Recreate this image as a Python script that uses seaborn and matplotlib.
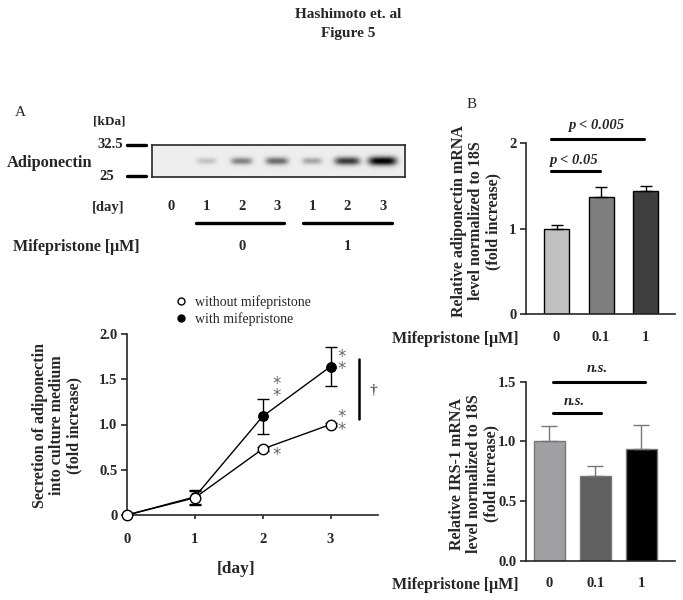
import numpy as np
import pandas as pd
import matplotlib
matplotlib.use("Agg")
import matplotlib.pyplot as plt
import matplotlib.transforms as mtransforms
from matplotlib.lines import Line2D
import seaborn as sns

# --- data ---
# western blot (relative band darkness per lane)
lane_days = ["0", "1", "2", "3", "1", "2", "3"]
band_intensity = [0.0, 0.18, 0.45, 0.55, 0.3, 0.75, 1.0]
band_width = [0.25, 0.28, 0.3, 0.32, 0.28, 0.36, 0.4]

# secretion time course
days = [0, 1, 2, 3]
without_mife = [0.0, 0.19, 0.73, 1.0]
without_err = [0.0, 0.08, 0.02, 0.02]
with_mife = [0.0, 0.20, 1.09, 1.64]
with_err = [0.0, 0.08, 0.19, 0.22]

# bar charts
doses = ["0", "0.1", "1"]
adipo_mrna = [1.0, 1.37, 1.44]
adipo_err = [0.04, 0.12, 0.06]
irs1_mrna = [1.0, 0.71, 0.935]
irs1_err = [0.13, 0.08, 0.20]

sns.set_style("ticks")
plt.rcParams["font.family"] = ["Liberation Serif", "DejaVu Serif"]
plt.rcParams["axes.linewidth"] = 1.2

W, H = 683, 600
fig = plt.figure(figsize=(6.83, 6.0), dpi=100)


def fx(x):
    return x / W


def fy(y):
    return 1 - y / H


def box(x0, y0, x1, y1):
    return [fx(x0), fy(y1), (x1 - x0) / W, (y1 - y0) / H]


bold = dict(fontweight="bold")

# title
fig.text(fx(348), fy(14), "Hashimoto et. al", ha="center", va="center", fontsize=11, **bold)
fig.text(fx(348), fy(33), "Figure 5", ha="center", va="center", fontsize=11, **bold)
fig.text(fx(15), fy(113), "A", ha="left", va="center", fontsize=11)
fig.text(fx(467), fy(104), "B", ha="left", va="center", fontsize=11)

# ---------------- western blot ----------------
axb = fig.add_axes(box(152, 145, 405, 177))
x0, x1 = -0.54, 6.63
xs = np.linspace(x0, x1, 400)
ys = np.linspace(0, 1, 60)
XX, YY = np.meshgrid(xs, ys)
img = np.full(XX.shape, 0.07)
for i, (a, w) in enumerate(zip(band_intensity, band_width)):
    img += a * 0.95 * np.exp(-((XX - i) / w) ** 4) * np.exp(-((YY - 0.5) / (0.09 + 0.05 * a)) ** 2)
axb.imshow(np.clip(img, 0, 1), cmap="gray_r", vmin=0, vmax=1, extent=(x0, x1, 0, 1),
           aspect="auto", interpolation="bilinear")
axb.set_xlim(x0, x1)
axb.set_xticks([])
axb.set_yticks([])
for s in axb.spines.values():
    s.set_linewidth(1.2)

tb = mtransforms.blended_transform_factory(axb.transData, fig.transFigure)
for i, d in enumerate(lane_days):
    axb.text(i, fy(207), d, transform=tb, ha="center", va="center", fontsize=10.5, **bold)
axb.plot([0.7, 3.2], [fy(223)] * 2, transform=tb, color="black", lw=2.4, clip_on=False)
axb.plot([3.74, 6.26], [fy(223)] * 2, transform=tb, color="black", lw=2.4, clip_on=False)
axb.text(2, fy(247), "0", transform=tb, ha="center", va="center", fontsize=10.5, **bold)
axb.text(5, fy(247), "1", transform=tb, ha="center", va="center", fontsize=10.5, **bold)

fig.text(fx(93), fy(121), "[kDa]", ha="left", va="center", fontsize=9.5, **bold)
fig.text(fx(123), fy(145), "32.5", ha="right", va="center", fontsize=10.5, **bold)
fig.text(fx(114), fy(177), "25", ha="right", va="center", fontsize=10.5, **bold)
for yy in (145, 176):
    fig.add_artist(Line2D([fx(127), fx(146)], [fy(yy)] * 2, color="black", lw=2.4))
fig.text(fx(7), fy(163), "Adiponectin", ha="left", va="center", fontsize=11.8, **bold)
fig.text(fx(92), fy(207), "[day]", ha="left", va="center", fontsize=10.5, **bold)
fig.text(fx(13), fy(247), "Mifepristone [μM]", ha="left", va="center", fontsize=11.5, **bold)

# ---------------- time course ----------------
axl = fig.add_axes(box(127, 334, 378, 515))
df_wo = pd.DataFrame({"day": days, "value": without_mife})
df_w = pd.DataFrame({"day": days, "value": with_mife})
axl.errorbar(days, with_mife, yerr=with_err, fmt="none", ecolor="black", elinewidth=1,
             capsize=4, capthick=1, zorder=2)
axl.errorbar(days, without_mife, yerr=without_err, fmt="none", ecolor="black", elinewidth=1,
             capsize=4, capthick=1, zorder=2)
sns.lineplot(data=df_w, x="day", y="value", ax=axl, color="black", lw=1, marker="o",
             markersize=7, markerfacecolor="black", markeredgecolor="black", zorder=3,
             clip_on=False)
sns.lineplot(data=df_wo, x="day", y="value", ax=axl, color="black", lw=1, marker="o",
             markersize=7.5, markerfacecolor="white", markeredgecolor="black",
             markeredgewidth=1, zorder=4, clip_on=False)
axl.set_xlim(0, 3.7)
axl.set_ylim(0, 2.0)
axl.set_xticks(days)
axl.set_xticklabels([str(d) for d in days])
axl.set_yticks([0, 0.5, 1.0, 1.5, 2.0])
axl.set_yticklabels(["0", "0.5", "1.0", "1.5", "2.0"])
axl.tick_params(axis="y", length=4, width=1.2, pad=3, labelsize=10.5)
axl.tick_params(axis="x", length=3, width=1.2, pad=10, labelsize=10.5)
for lab in axl.get_xticklabels() + axl.get_yticklabels():
    lab.set_fontweight("bold")
sns.despine(ax=axl)
axl.set_xlabel("")
axl.set_ylabel("")
fig.text(fx(236), fy(569), "[day]", ha="center", va="center", fontsize=12.5, **bold)
fig.text(fx(57), fy(425), "Secretion of adiponectin\ninto culture medium\n(fold increase)",
         ha="center", va="center", rotation=90, fontsize=11.5, linespacing=1.1, **bold)

star = dict(ha="center", va="center", fontsize=12, color="#666666", family="DejaVu Sans",
            linespacing=0.62)
axl.text(2.2, 1.38, "*\n*", **star)
axl.text(2.2, 0.66, "*", **star)
axl.text(3.17, 1.68, "*\n*", **star)
axl.text(3.17, 1.01, "*\n*", **star)
axl.plot([3.42, 3.42], [1.06, 1.72], color="black", lw=1.8, clip_on=False)
axl.text(3.63, 1.38, "†", ha="center", va="center", fontsize=11)

handles = [Line2D([], [], marker="o", ls="none", mfc="white", mec="black", ms=5),
           Line2D([], [], marker="o", ls="none", mfc="black", mec="black", ms=5)]
fig.legend(handles, ["without mifepristone", "with mifepristone"], loc="upper left",
           bbox_to_anchor=(fx(174), fy(295)), frameon=False, fontsize=10,
           handlelength=1.0, handletextpad=0.5, labelspacing=0.25, borderpad=0,
           borderaxespad=0)

# ---------------- bar charts ----------------
def bar_panel(ax, vals, errs, colors, width, ecol, ec_bar, capsize):
    df = pd.DataFrame({"dose": doses, "val": vals})
    sns.barplot(data=df, x="dose", y="val", hue="dose", order=doses, hue_order=doses,
                palette=colors, legend=False, width=width, edgecolor=ec_bar,
                linewidth=1, ax=ax)
    ax.errorbar(range(len(doses)), vals, yerr=[[0] * len(errs), errs], fmt="none",
                ecolor=ecol, elinewidth=1, capsize=capsize, capthick=1, zorder=3)
    ax.set_xlabel("")
    ax.set_ylabel("")
    ax.tick_params(axis="x", length=0, pad=12, labelsize=10.5)
    ax.tick_params(axis="y", length=4, width=1.2, pad=3, labelsize=10.5)
    for lab in ax.get_xticklabels():
        lab.set_fontweight("bold")
    sns.despine(ax=ax)


ax1 = fig.add_axes(box(526, 143, 675, 314))
bar_panel(ax1, adipo_mrna, adipo_err, ["#c0c0c0", "#7f7f7f", "#3f3f3f"], 0.56,
          "black", "black", 4)
ax1.set_xlim(-0.685, 2.66)
ax1.set_ylim(0, 2)
ax1.set_yticks([0, 1, 2])
ax1.set_yticklabels(["0", "1", "2"])
for lab in ax1.get_yticklabels():
    lab.set_fontweight("bold")
ax1.plot([-0.12, 1.97], [2.05, 2.05], color="black", lw=2.2, clip_on=False)
ax1.plot([-0.12, 0.98], [1.67, 1.67], color="black", lw=2.2, clip_on=False)
ax1.text(0.9, 2.21, "p < 0.005", ha="center", va="center", fontsize=10.5,
         fontweight="bold", fontstyle="italic")
ax1.text(0.38, 1.79, "p < 0.05", ha="center", va="center", fontsize=10.5,
         fontweight="bold", fontstyle="italic")
fig.text(fx(476), fy(221), "Relative adiponectin mRNA\nlevel normalized to 18S\n(fold increase)",
         ha="center", va="center", rotation=90, fontsize=11.5, linespacing=1.1, **bold)
fig.text(fx(392), fy(339), "Mifepristone [μM]", ha="left", va="center", fontsize=11.5, **bold)

ax2 = fig.add_axes(box(526, 381.7, 675, 560.7))
bar_panel(ax2, irs1_mrna, irs1_err, ["#a0a0a4", "#606060", "#000000"], 0.67,
          "#777777", "#777777", 5.5)
ax2.set_xlim(-0.51, 2.73)
ax2.set_ylim(0, 1.5)
ax2.set_yticks([0, 0.5, 1.0, 1.5])
ax2.set_yticklabels(["0.0", "0.5", "1.0", "1.5"])
for lab in ax2.get_yticklabels():
    lab.set_fontweight("bold")
ax2.plot([0.07, 2.07], [1.5, 1.5], color="black", lw=2.2, clip_on=False)
ax2.plot([0.07, 1.12], [1.24, 1.24], color="black", lw=2.2, clip_on=False)
ax2.text(1.03, 1.61, "n.s.", ha="center", va="center", fontsize=10.5,
         fontweight="bold", fontstyle="italic")
ax2.text(0.53, 1.33, "n.s.", ha="center", va="center", fontsize=10.5,
         fontweight="bold", fontstyle="italic")
fig.text(fx(474), fy(474), "Relative IRS-1 mRNA\nlevel normalized to 18S\n(fold increase)",
         ha="center", va="center", rotation=90, fontsize=11.5, linespacing=1.1, **bold)
fig.text(fx(392), fy(585), "Mifepristone [μM]", ha="left", va="center", fontsize=11.5, **bold)

fig.savefig("out.png", dpi=100)
